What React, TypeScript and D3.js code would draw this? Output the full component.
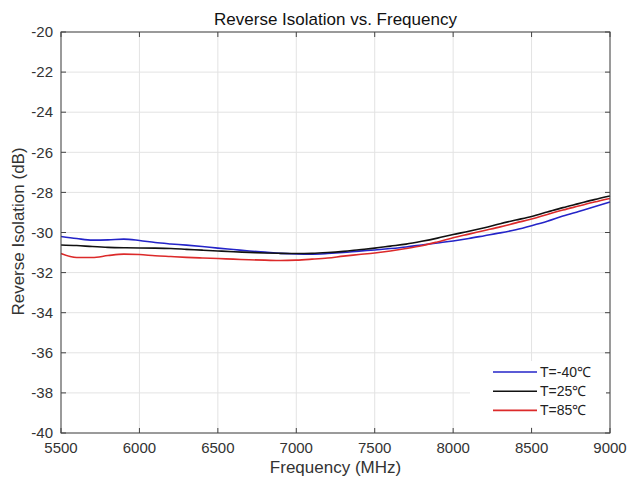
import React, { useEffect, useRef } from 'react';
import * as d3 from 'd3';

// frequency grid (MHz)
const freqs = [5500, 5600, 5700, 5800, 5900, 6000, 6100, 6200, 6300, 6400, 6500, 6600, 6700, 6800, 6900, 7000, 7100, 7200, 7300, 7400, 7500, 7600, 7700, 7800, 7900, 8000, 8100, 8200, 8300, 8400, 8500, 8600, 8700, 8800, 8900, 9000];

const tMinus40 = [-30.2, -30.3, -30.38, -30.37, -30.33, -30.4, -30.5, -30.57, -30.63, -30.7, -30.78, -30.85, -30.92, -30.98, -31.04, -31.07, -31.08, -31.05, -31.0, -30.93, -30.87, -30.8, -30.72, -30.62, -30.52, -30.42, -30.3, -30.16, -30.02, -29.86, -29.66, -29.44, -29.18, -28.95, -28.72, -28.48];
const t25 = [-30.62, -30.65, -30.7, -30.74, -30.76, -30.77, -30.78, -30.8, -30.84, -30.88, -30.92, -30.96, -30.99, -31.02, -31.04, -31.05, -31.04, -31.0, -30.94, -30.86, -30.78, -30.68, -30.58, -30.44, -30.28, -30.1, -29.94, -29.76, -29.56, -29.38, -29.2, -28.98, -28.76, -28.56, -28.36, -28.18];
const t85 = [-31.05, -31.25, -31.25, -31.15, -31.08, -31.1, -31.16, -31.2, -31.24, -31.27, -31.3, -31.33, -31.36, -31.38, -31.4, -31.38, -31.33, -31.27, -31.18, -31.1, -31.02, -30.92, -30.8, -30.66, -30.47, -30.26, -30.08, -29.9, -29.72, -29.52, -29.33, -29.1, -28.88, -28.68, -28.48, -28.3];

const xTicks = [5500, 6000, 6500, 7000, 7500, 8000, 8500, 9000];
const yTicks = [-40, -38, -36, -34, -32, -30, -28, -26, -24, -22, -20];

const series = [
    { name: 'T=-40℃', values: tMinus40, color: '#2424c8' },
    { name: 'T=25℃', values: t25, color: '#111111' },
    { name: 'T=85℃', values: t85, color: '#dc2a2a' },
];

const W = 628;
const H = 483;

const App = () => {
    const svgRef = useRef<SVGSVGElement>(null);

    useEffect(() => {
        const svg = d3.select(svgRef.current);
        svg.selectAll('*').remove();

        const margin = { top: 32, right: 18, bottom: 50, left: 61 };
        const innerW = W - margin.left - margin.right;
        const innerH = H - margin.top - margin.bottom;
        const font = 'Liberation Sans, Arial, sans-serif';

        svg.append('rect').attr('width', W).attr('height', H).attr('fill', '#fff');

        const g = svg.append('g').attr('transform', `translate(${margin.left},${margin.top})`);

        const x = d3.scaleLinear().domain([5500, 9000]).range([0, innerW]);
        const y = d3.scaleLinear().domain([-40, -20]).range([innerH, 0]);

        // grid
        g.append('g').selectAll('line').data(xTicks).enter().append('line')
            .attr('x1', d => x(d)).attr('x2', d => x(d))
            .attr('y1', 0).attr('y2', innerH)
            .attr('stroke', '#e3e3e3').attr('stroke-width', 1);
        g.append('g').selectAll('line').data(yTicks).enter().append('line')
            .attr('y1', d => y(d)).attr('y2', d => y(d))
            .attr('x1', 0).attr('x2', innerW)
            .attr('stroke', '#e3e3e3').attr('stroke-width', 1);

        // curves
        const line = d3.line<number>()
            .x((_, i) => x(freqs[i]))
            .y(d => y(d))
            .curve(d3.curveMonotoneX);

        series.forEach(s => {
            g.append('path')
                .datum(s.values)
                .attr('d', line)
                .attr('fill', 'none')
                .attr('stroke', s.color)
                .attr('stroke-width', 1.6);
        });

        // box
        g.append('rect')
            .attr('width', innerW).attr('height', innerH)
            .attr('fill', 'none').attr('stroke', '#444').attr('stroke-width', 1);

        // inward ticks on all sides
        const tl = 5;
        xTicks.forEach(t => {
            g.append('line').attr('x1', x(t)).attr('x2', x(t)).attr('y1', innerH).attr('y2', innerH - tl).attr('stroke', '#444');
            g.append('line').attr('x1', x(t)).attr('x2', x(t)).attr('y1', 0).attr('y2', tl).attr('stroke', '#444');
        });
        yTicks.forEach(t => {
            g.append('line').attr('y1', y(t)).attr('y2', y(t)).attr('x1', 0).attr('x2', tl).attr('stroke', '#444');
            g.append('line').attr('y1', y(t)).attr('y2', y(t)).attr('x1', innerW).attr('x2', innerW - tl).attr('stroke', '#444');
        });

        // tick labels
        g.append('g').selectAll('text').data(xTicks).enter().append('text')
            .attr('x', d => x(d)).attr('y', innerH + 20)
            .attr('text-anchor', 'middle')
            .attr('font-family', font).attr('font-size', 15).attr('fill', '#333')
            .text(d => d);
        g.append('g').selectAll('text').data(yTicks).enter().append('text')
            .attr('x', -8).attr('y', d => y(d)).attr('dy', '0.35em')
            .attr('text-anchor', 'end')
            .attr('font-family', font).attr('font-size', 15).attr('fill', '#333')
            .text(d => d);

        // titles
        svg.append('text')
            .attr('x', margin.left + innerW / 2).attr('y', 25)
            .attr('text-anchor', 'middle')
            .attr('font-family', font).attr('font-size', 17).attr('fill', '#111')
            .text('Reverse Isolation vs. Frequency');
        svg.append('text')
            .attr('x', margin.left + innerW / 2).attr('y', 473)
            .attr('text-anchor', 'middle')
            .attr('font-family', font).attr('font-size', 17).attr('fill', '#333')
            .text('Frequency (MHz)');
        svg.append('text')
            .attr('transform', `translate(24,${margin.top + innerH / 2 - 1}) rotate(-90)`)
            .attr('text-anchor', 'middle')
            .attr('font-family', font).attr('font-size', 17).attr('fill', '#333')
            .text('Reverse Isolation (dB)');

        // legend
        const lg = g.append('g').attr('transform', `translate(${innerW - 140},${innerH - 72})`);
        lg.append('rect').attr('width', 136).attr('height', 66).attr('fill', '#fff');
        series.forEach((s, i) => {
            const yy = 11 + i * 19.2;
            lg.append('line').attr('x1', 23).attr('x2', 67).attr('y1', yy).attr('y2', yy)
                .attr('stroke', s.color).attr('stroke-width', 1.6);
            lg.append('text').attr('x', 70).attr('y', yy).attr('dy', '0.35em')
                .attr('font-family', font).attr('font-size', 14).attr('fill', '#222')
                .text(s.name);
        });
    }, []);

    return (
        <svg ref={svgRef} width={W} height={H} style={{ display: 'block', position: 'absolute', left: 0, top: 0 }}></svg>
    );
};

export default App;
